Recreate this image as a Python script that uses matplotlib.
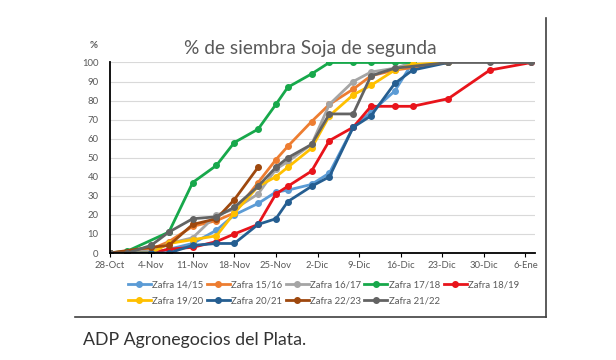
import matplotlib
matplotlib.use("Agg")
import matplotlib.pyplot as plt
from matplotlib.lines import Line2D

plt.rcParams['font.family'] = ['Lato', 'DejaVu Sans']

# days counted from 28-Oct
tick_days = [0, 7, 14, 21, 28, 35, 42, 49, 56, 63, 70]
tick_labels = ['28-Oct', '4-Nov', '11-Nov', '18-Nov', '25-Nov', '2-Dic',
               '9-Dic', '16-Dic', '23-Dic', '30-Dic', '6-Ene']

d_1415 = [0, 3, 7, 10, 14, 18, 21, 25, 28, 30, 34, 37, 41, 44, 48, 51]
v_1415 = [0, 0, 0, 2, 5, 12, 20, 26, 32, 33, 36, 42, 66, 74, 85, 100]

d_1516 = [0, 7, 10, 14, 18, 21, 25, 28, 30, 34, 37, 41, 44, 48, 57]
v_1516 = [0, 2, 6, 14, 17, 21, 37, 49, 56, 69, 78, 86, 93, 96, 100]

d_1617 = [0, 7, 10, 14, 18, 21, 25, 28, 30, 34, 37, 41, 44, 48, 51]
v_1617 = [0, 1, 5, 8, 20, 23, 31, 44, 48, 57, 78, 90, 95, 97, 100]

d_1718 = [0, 3, 10, 14, 18, 21, 25, 28, 30, 34, 37, 41, 44, 48, 51]
v_1718 = [0, 1, 11, 37, 46, 58, 65, 78, 87, 94, 100, 100, 100, 100, 100]

d_1819 = [7, 10, 14, 18, 21, 25, 28, 30, 34, 37, 41, 44, 48, 51, 57, 64, 71]
v_1819 = [0, 2, 3, 6, 10, 15, 31, 35, 43, 59, 66, 77, 77, 77, 81, 96, 100]

d_1920 = [0, 7, 10, 14, 18, 21, 25, 28, 30, 34, 37, 41, 44, 48, 51, 57]
v_1920 = [0, 0, 5, 7, 9, 21, 35, 40, 45, 55, 72, 83, 88, 96, 99, 100]

d_2021 = [0, 3, 7, 10, 14, 18, 21, 25, 28, 30, 34, 37, 41, 44, 48, 51, 57]
v_2021 = [0, 0, 0, 0, 4, 5, 5, 15, 18, 27, 35, 40, 66, 72, 89, 96, 100]

d_2223 = [0, 7, 10, 14, 18, 21, 25]
v_2223 = [0, 3, 4, 15, 18, 28, 45]

d_2122 = [0, 3, 7, 10, 14, 18, 21, 25, 28, 30, 34, 37, 41, 44, 48, 57, 64, 71]
v_2122 = [0, 0, 4, 11, 18, 19, 24, 35, 45, 50, 57, 73, 73, 93, 97, 100, 100, 100]

series = [
    ('Zafra 14/15', d_1415, v_1415, '#5B9BD5'),
    ('Zafra 15/16', d_1516, v_1516, '#ED7D31'),
    ('Zafra 16/17', d_1617, v_1617, '#A5A5A5'),
    ('Zafra 17/18', d_1718, v_1718, '#17A84B'),
    ('Zafra 18/19', d_1819, v_1819, '#E8141B'),
    ('Zafra 19/20', d_1920, v_1920, '#FFC000'),
    ('Zafra 20/21', d_2021, v_2021, '#255E91'),
    ('Zafra 22/23', d_2223, v_2223, '#9E480E'),
    ('Zafra 21/22', d_2122, v_2122, '#636363'),
]

fig = plt.figure(figsize=(6.16, 3.6), dpi=100)
ax = fig.add_axes([0.1778, 0.2972, 0.6907, 0.5292])

handles = []
for name, d, v, c in series:
    h, = ax.plot(d, v, color=c, lw=2, marker='o', ms=4, label=name)
    handles.append(h)

ax.set_xlim(0, 71.6)
ax.set_ylim(0, 100)
ax.set_yticks(range(0, 101, 10))
ax.set_xticks(tick_days)
ax.set_xticklabels(tick_labels)
ax.grid(axis='y', color='#D9D9D9', lw=0.8)
ax.set_axisbelow(True)
for s in ['top', 'right']:
    ax.spines[s].set_visible(False)
for s in ['left', 'bottom']:
    ax.spines[s].set_color('black')
    ax.spines[s].set_linewidth(1.3)
ax.tick_params(axis='y', length=0, labelsize=6.8, labelcolor='#595959', pad=8)
ax.tick_params(axis='x', length=3, direction='out', color='black',
               labelsize=6.8, labelcolor='#595959', pad=3)

fig.text(0.503, 0.866, '% de siembra Soja de segunda', ha='center', va='center',
         fontsize=13.8, color='#595959')
fig.text(0.152, 0.873, '%', ha='center', va='center', fontsize=7,
         fontweight='bold', color='#595959')

order = [0, 5, 1, 6, 2, 7, 3, 8, 4]
leg = fig.legend([handles[i] for i in order], [series[i][0] for i in order],
                 ncol=5, loc='center', bbox_to_anchor=(0.525, 0.186), frameon=False,
                 fontsize=6.9, handlelength=2.4, handletextpad=0.15,
                 columnspacing=0.35, labelspacing=0.7, borderaxespad=0)
for t in leg.get_texts():
    t.set_color('#595959')

# chart frame edges (right and bottom)
fig.add_artist(Line2D([0.122, 0.886], [0.12, 0.12], color='#404040', lw=1.2))
fig.add_artist(Line2D([0.886, 0.886], [0.12, 0.95], color='#404040', lw=1.2))

fig.text(0.135, 0.055, 'ADP Agronegocios del Plata.', ha='left', va='center',
         fontsize=12.8, color='#333333')

fig.savefig('out.png', dpi=100)
